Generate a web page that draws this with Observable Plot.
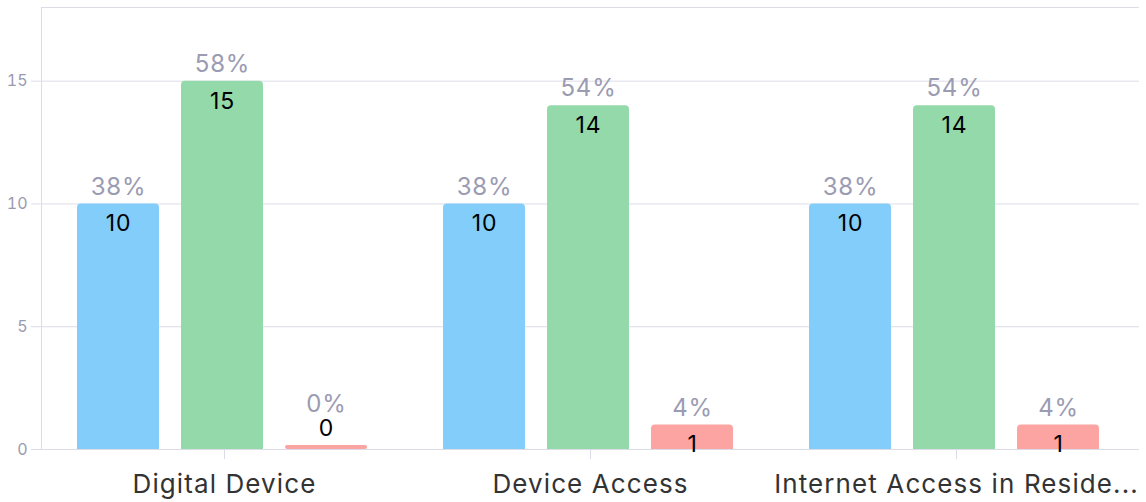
<!DOCTYPE html>
<html>
<head>
<meta charset="utf-8">
<script src="https://cdn.jsdelivr.net/npm/d3@7"></script>
<script src="https://cdn.jsdelivr.net/npm/@observablehq/plot@0.6"></script>
<style>
  html, body { margin: 0; padding: 0; background: #ffffff; }
  #chart { width: 1146px; height: 502px; }
  #chart g[aria-label="fx-axis tick label"] text { letter-spacing: 1.1px; }
  #chart g[aria-label="text"] text { letter-spacing: 0.8px; }
</style>
</head>
<body>
<div id="chart"></div>
<script>
// ---- data ----
const categories = ["Digital Device", "Device Access", "Internet Access in Reside..."];
const series = ["Series 1", "Series 2", "Series 3"];
const seriesColors = ["#82cdf9", "#94d9aa", "#fca4a2"];
const values1 = [10, 10, 10];
const values2 = [15, 14, 14];
const values3 = [0, 1, 1];
const percents1 = [38, 38, 38];
const percents2 = [58, 54, 54];
const percents3 = [0, 4, 4];
const yTicks = [0, 5, 10, 15];
const yMax = 18;

// ---- table ----
const valueLists = [values1, values2, values3];
const pctLists = [percents1, percents2, percents3];
const rows = categories.flatMap((c, i) =>
  series.map((s, j) => ({category: c, series: s, value: valueLists[j][i], pct: pctLists[j][i]}))
);
const nonzero = rows.filter(d => d.value > 0);
const zero = rows.filter(d => d.value === 0);

const gridColor = "#dcdce9";
const tickTextColor = "#9a9ab0";

const chart = Plot.plot({
  width: 1146,
  height: 502,
  marginLeft: 41,
  marginRight: 7,
  marginTop: 7,
  marginBottom: 53,
  style: {fontFamily: "Inter, 'Noto Sans', sans-serif", background: "#ffffff"},
  fx: {domain: categories, padding: 0, label: null},
  x: {domain: series, paddingInner: 0.2115, paddingOuter: 0.365, align: 0.47, axis: null},
  y: {domain: [0, yMax], label: null, axis: null},
  color: {domain: series, range: seriesColors},
  marks: [
    Plot.gridY(yTicks, {stroke: gridColor, strokeOpacity: 1}),
    Plot.ruleY([yMax], {stroke: gridColor, strokeOpacity: 1}),
    Plot.frame({anchor: "left", stroke: gridColor, strokeOpacity: 1, facetAnchor: "left"}),
    Plot.axisY(yTicks, {tickSize: 10, tickPadding: 4, stroke: gridColor, strokeOpacity: 1, fill: tickTextColor, fontSize: 16, label: null}),
    Plot.axisFx({anchor: "bottom", tickSize: 10, tickPadding: 15, stroke: gridColor, strokeOpacity: 1, fill: "#333333", fontSize: 26, label: null}),
    // square bottoms under rounded bars
    Plot.barY(nonzero, {fx: "category", x: "series", y1: 0, y2: d => d.value / 2, fill: "series"}),
    Plot.barY(nonzero, {fx: "category", x: "series", y1: 0, y2: "value", fill: "series", rx: 4}),
    Plot.barY(zero, {fx: "category", x: "series", y1: 0, y2: "value", fill: "series", insetTop: -4, rx: 2}),
    // labels
    Plot.text(nonzero, {fx: "category", x: "series", y: "value", text: d => d.pct + "%", dy: -17, fill: "#9b9bb2", fontSize: 24, lineAnchor: "middle"}),
    Plot.text(nonzero, {fx: "category", x: "series", y: "value", text: d => String(d.value), dy: 20, fill: "#000000", fontSize: 23, lineAnchor: "middle"}),
    Plot.text(zero, {fx: "category", x: "series", y: "value", text: d => d.pct + "%", dy: -45, fill: "#9b9bb2", fontSize: 24, lineAnchor: "middle"}),
    Plot.text(zero, {fx: "category", x: "series", y: "value", text: d => String(d.value), dy: -21, fill: "#000000", fontSize: 23, lineAnchor: "middle"})
  ]
});
document.getElementById("chart").appendChild(chart);
</script>
</body>
</html>
